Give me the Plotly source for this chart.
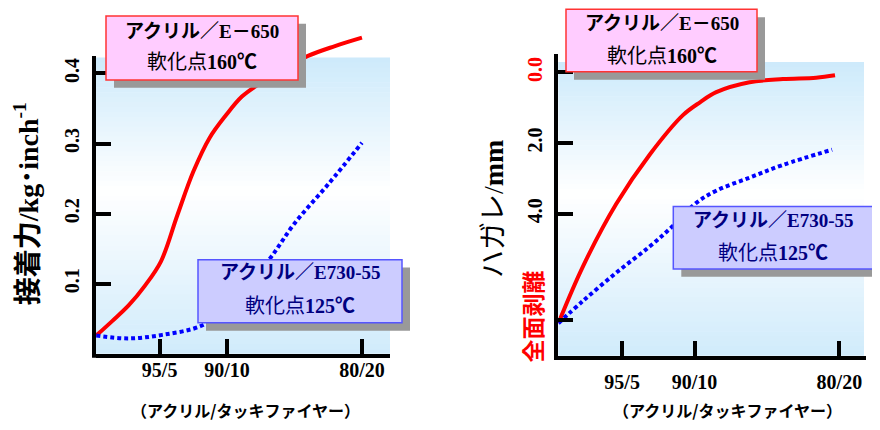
import plotly.graph_objects as go

# ---------------- data ----------------
ratio_ticks = [5, 10, 20]                 # tackifier content (%)
ratio_labels = ["95/5", "90/10", "80/20"]

# adhesion force (kg/inch)
adh_e650_x = [0.3, 1.5, 2.7, 3.9, 5.1, 6.3, 7.5, 8.7, 9.9, 11.1, 12.3, 14.2, 16.0, 18.0, 20.0]
adh_e650_y = [0.026, 0.047, 0.069, 0.097, 0.132, 0.197, 0.26, 0.308, 0.34, 0.367, 0.384, 0.406, 0.425, 0.439, 0.451]
adh_e730_x = [0.3, 2.7, 5.2, 8.1, 10.0, 11.7, 13.3, 15.0, 17.5, 20.0]
adh_e730_y = [0.026, 0.022, 0.027, 0.040, 0.065, 0.1, 0.139, 0.186, 0.242, 0.301]

# peeling (mm), 7.0 = full peel
peel_e650_x = [0.6, 2.3, 4.6, 6.9, 9.2, 10.4, 11.5, 13.8, 16.1, 18.4, 19.7]
peel_e650_y = [7.1, 5.49, 3.72, 2.33, 1.21, 0.84, 0.56, 0.28, 0.19, 0.15, 0.08]
peel_e730_x = [0.6, 2.3, 4.6, 6.9, 8.5, 10.1, 11.5, 13.8, 16.1, 19.5]
peel_e730_y = [7.1, 6.47, 5.67, 4.93, 4.35, 3.7, 3.35, 2.98, 2.62, 2.19]

adh_ticks = [0.1, 0.2, 0.3, 0.4]
adh_ticklabels = ["0.1", "0.2", "0.3", "0.4"]
peel_ticks = [0.0, 2.0, 4.0, 7.0]
peel_ticklabels = ['<span style="color:#ff0000">0.0</span>', "2.0", "4.0",
                   '<span style="color:#ff0000;font-size:23px">全面剥離</span>']

# page body has an 8px margin: lay out in window pixels, shifted by it
OFF = 8
W, H = 880 - OFF, 430 - OFF
def X(px): return (px - OFF) / W
def Y(py): return 1 - (py - OFF) / H

RED = "#ff0000"
BLUE = "#0000ff"
SERIF = "Liberation Serif, Noto Sans CJK JP"
CJK = "Noto Sans CJK JP"

fig = go.Figure()
fig.add_trace(go.Scatter(x=adh_e650_x, y=adh_e650_y, mode="lines", xaxis="x", yaxis="y",
                         line=dict(color=RED, width=4, shape="spline", smoothing=1.0)))
fig.add_trace(go.Scatter(x=adh_e730_x, y=adh_e730_y, mode="lines", xaxis="x", yaxis="y",
                         line=dict(color=BLUE, width=4, dash="4px,3px", shape="spline", smoothing=1.0)))
fig.add_trace(go.Scatter(x=peel_e650_x, y=peel_e650_y, mode="lines", xaxis="x2", yaxis="y2",
                         line=dict(color=RED, width=4, shape="spline", smoothing=1.0)))
fig.add_trace(go.Scatter(x=peel_e730_x, y=peel_e730_y, mode="lines", xaxis="x2", yaxis="y2",
                         line=dict(color=BLUE, width=4, dash="4px,3px", shape="spline", smoothing=1.0)))

tickfont = dict(family="Liberation Serif, Noto Sans CJK JP", size=20, color="black", weight="bold")
common_x = dict(tickvals=ratio_ticks, ticktext=ratio_labels, showgrid=False, zeroline=False,
                showline=True, linewidth=4, linecolor="black", ticks="inside", ticklen=15,
                tickwidth=4, tickcolor="black", tickfont=tickfont)

fig.update_layout(
    width=W, height=H, margin=dict(l=0, r=0, t=0, b=0),
    paper_bgcolor="white", plot_bgcolor="rgba(0,0,0,0)", showlegend=False,
    xaxis=dict(domain=[X(96), X(390)], range=[0.282, 22.08], anchor="y",
               ticklabelstandoff=-5, **common_x),
    yaxis=dict(domain=[Y(358.8), Y(20)], range=[0, 0.4765], anchor="x",
               tickvals=adh_ticks, ticktext=adh_ticklabels, tickangle=-90,
               showgrid=False, zeroline=False, showline=False, ticklabelstandoff=12,
               ticks="inside", ticklen=15, tickwidth=4, tickcolor="black", tickfont=tickfont),
    xaxis2=dict(domain=[X(558.3), X(866)], range=[0.594, 21.84], anchor="y2",
                ticklabelstandoff=5, **common_x),
    yaxis2=dict(domain=[Y(360.7), Y(55)], range=[8.021, -0.511], anchor="x2",
                tickvals=peel_ticks, ticktext=peel_ticklabels, tickangle=-90,
                showgrid=False, zeroline=False, showline=True, linewidth=4, linecolor="black",
                ticklabelstandoff=4,
                ticks="inside", ticklen=15, tickwidth=4, tickcolor="black", tickfont=tickfont),
)

shapes = []
# gradient backgrounds
def gradient(x0, x1, top, bottom, n=60, tw=0.45):
    c_top = (205, 234, 251)
    c_mid = (255, 255, 255)
    c_bot = (208, 235, 251)
    h = (bottom - top) / n
    for i in range(n):
        t = (i + 0.5) / n
        if t < tw:
            a, b, f = c_top, c_mid, t / tw
        else:
            a, b, f = c_mid, c_bot, (t - tw) / (1 - tw)
        col = tuple(round(a[k] + (b[k] - a[k]) * f) for k in range(3))
        shapes.append(dict(type="rect", xref="paper", yref="paper", layer="below",
                           x0=X(x0), x1=X(x1), y0=Y(top + i * h), y1=Y(min(bottom, top + (i + 1) * h + 0.6)),
                           fillcolor="rgb(%d,%d,%d)" % col, line=dict(width=0)))
gradient(96, 390, 58.3, 358.8)
gradient(558.3, 864, 62.7, 360.7)

# left y axis line (drawn as shape so the red curve can rise above it)
shapes.append(dict(type="line", xref="paper", yref="paper", x0=X(94), x1=X(94),
                   y0=Y(362.8), y1=Y(56.7), line=dict(color="black", width=4), layer="above"))

# boxes with shadows
def box(x0, y0, x1, y1, fill, border):
    shapes.append(dict(type="rect", xref="paper", yref="paper", layer="above",
                       x0=X(x0 + 8), x1=X(x1 + 8), y0=Y(y1 + 8), y1=Y(y0 + 8),
                       fillcolor="#999999", line=dict(width=0)))
    shapes.append(dict(type="rect", xref="paper", yref="paper", layer="above",
                       x0=X(x0), x1=X(x1), y0=Y(y1), y1=Y(y0),
                       fillcolor=fill, line=dict(color=border, width=1.5)))
box(106, 16, 298, 81, "#ffccff", "#ff3333")
box(566, 9.3, 757, 72.7, "#ffccff", "#ff3333")
box(198, 263.3, 402, 327.3, "#ccccff", "#5555ff")
box(673.3, 209.3, 873, 272.7, "#ccccff", "#5555ff")
fig.update_layout(shapes=shapes)

ann = []
def text(px, py, s, size, color="black", family=SERIF, angle=0):
    ann.append(dict(x=X(px), y=Y(py), xref="paper", yref="paper", text=s, showarrow=False,
                    xanchor="center", yanchor="middle", textangle=angle,
                    font=dict(family=family, size=size, color=color)))

# box texts
text(202, 31.7, "<b>アクリル／E－650</b>", 19)
text(202, 63, "軟化点<b>160℃</b>", 20)
text(661.5, 23.3, "<b>アクリル／E－650</b>", 19)
text(661.5, 56.7, "軟化点<b>160℃</b>", 20)
NAVY = "#000080"
text(300, 276.7, "<b>アクリル／E730-55</b>", 19, NAVY)
text(300, 310, "軟化点<b>125℃</b>", 20, NAVY)
text(773, 223.3, "<b>アクリル／E730-55</b>", 19, NAVY)
text(773, 256.7, "軟化点<b>125℃</b>", 20, NAVY)

# axis titles
text(26, 207, "<b>接着力/kg･inch<sup>-1</sup></b>", 28, angle=-90)
text(493, 212, "ハガレ/<b>mm</b>", 28, angle=-90)
text(245, 416, "<b>（アクリル/タッキファイヤー）</b>", 16, family=CJK)
text(727.5, 416, "<b>（アクリル/タッキファイヤー）</b>", 16, family=CJK)
fig.update_layout(annotations=ann)

fig.write_html("out.html")
